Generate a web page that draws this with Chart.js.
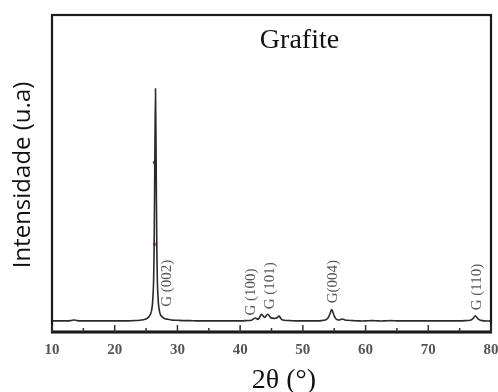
<!DOCTYPE html>
<html><head><meta charset="utf-8">
<script src="https://cdn.jsdelivr.net/npm/chart.js@4/dist/chart.umd.min.js"></script>
<style>html,body{margin:0;padding:0;background:#fff}#wrap{width:498px;height:392px}</style>
</head><body><div id="wrap"><canvas id="c" width="498" height="392"></canvas></div>
<script>
const twoTheta = [10,11,12,13,13.5,14,15,16,17,18,19,20,21,22,23,24,25,25.4,25.7,25.9,26.05,26.2,26.3,26.4,26.5,26.6,26.7,26.8,26.95,27.1,27.3,27.6,28,28.5,29,30,31,32,33,34,35,36,37,38,39,40,41,41.8,42.4,42.9,43.4,43.9,44.4,44.9,45.4,45.8,46.2,46.6,47,48,49,50,51,52,53,53.6,54.0,54.3,54.6,54.9,55.2,55.6,56,56.3,56.7,57,58,59,60,61,62,63,64,65,66,67,68,69,70,71,72,73,74,75,76,76.7,77.1,77.5,77.9,78.3,79,80];
const intensity = [3.5,3.5,3.5,3.6,3.8,3.6,3.5,3.5,3.5,3.5,3.5,3.5,3.5,3.5,3.6,3.7,4.1,4.7,5.6,7.0,9.5,16,30,55,76.7,55,30,16,9.5,7.0,5.4,4.7,4.2,4.0,3.8,3.7,3.6,3.6,3.5,3.5,3.5,3.5,3.5,3.5,3.5,3.5,3.6,3.7,4.4,4.0,5.6,4.6,5.6,4.5,4.3,4.4,5.0,4.0,3.7,3.6,3.5,3.5,3.5,3.5,3.6,3.8,4.4,5.6,7.1,5.6,4.3,3.8,3.9,4.1,3.8,3.7,3.6,3.5,3.5,3.6,3.5,3.5,3.6,3.5,3.5,3.5,3.5,3.5,3.5,3.5,3.5,3.5,3.5,3.5,3.6,3.7,4.2,5.1,4.2,3.7,3.5,3.5];
const peakLabels = ["G (002)","G (100)","G (101)","G(004)","G (110)"];
const labelX = [28.3,41.8,44.7,54.8,77.8];
const labelYcenter = [15.4,12.6,14.6,15.9,14.2];
const markerX = [26.4,26.4];
const markerY = [53.5,27.7];
const markerColors = ['#3a3aa8','#e06060'];
const xTicks = [10,20,30,40,50,60,70,80];
const minorTicks = [15,25,35,45,55,65,75];

const pts = twoTheta.map((x,i)=>({x:x,y:intensity[i]}));
const marks = markerX.map((x,i)=>({x:x,y:markerY[i]}));

const deco = {
  id:'deco',
  afterDatasetsDraw(chart){
    const {ctx, chartArea:a, scales:{x,y}} = chart;
    ctx.save();
    ctx.strokeStyle='#1a1a1a';
    ctx.lineWidth=2.2;
    ctx.strokeRect(a.left, a.top, a.right-a.left, a.bottom-a.top);
    ctx.lineWidth=3;
    ctx.beginPath();ctx.moveTo(a.left-1,a.bottom);ctx.lineTo(a.right+1,a.bottom);ctx.stroke();
    ctx.lineWidth=1.5;
    ctx.strokeStyle='#333';
    xTicks.forEach(v=>{const px=x.getPixelForValue(v);ctx.beginPath();ctx.moveTo(px,a.bottom);ctx.lineTo(px,a.bottom-7);ctx.stroke();});
    minorTicks.forEach(v=>{const px=x.getPixelForValue(v);ctx.beginPath();ctx.moveTo(px,a.bottom);ctx.lineTo(px,a.bottom-4);ctx.stroke();});
    ctx.fillStyle='#555';
    ctx.font='15px "Liberation Serif", "DejaVu Serif", serif';
    ctx.textAlign='center';ctx.textBaseline='middle';
    peakLabels.forEach((t,i)=>{
      ctx.save();
      ctx.translate(x.getPixelForValue(labelX[i]), y.getPixelForValue(labelYcenter[i]));
      ctx.rotate(-Math.PI/2);
      ctx.fillText(t,0,0);
      ctx.restore();
    });
    ctx.fillStyle='#111';
    ctx.textBaseline='alphabetic';
    ctx.font='28px "Liberation Serif", serif';
    ctx.fillText('Grafite', 299.5, 48);
    ctx.fillText('2θ (°)', 284, 388);
    ctx.save();
    ctx.translate(30,175);
    ctx.rotate(-Math.PI/2);
    ctx.font='24px "Open Sans", "Liberation Sans", sans-serif';
    ctx.fillText('Intensidade (u.a)',0,0);
    ctx.restore();
    ctx.restore();
  }
};

new Chart(document.getElementById('c'),{
  type:'line',
  data:{datasets:[
    {data:pts,borderColor:'#2a2a2a',borderWidth:1.6,pointRadius:0,tension:0.3,fill:false},
    {type:'scatter',data:marks,pointRadius:2,pointBackgroundColor:markerColors,pointBorderWidth:0,showLine:false}
  ]},
  options:{
    responsive:false,animation:false,
    layout:{padding:{left:52,right:7,top:15,bottom:0}},
    plugins:{legend:{display:false},tooltip:{enabled:false}},
    scales:{
      x:{type:'linear',min:10,max:80,
        afterFit(s){s.height=60;s.paddingLeft=0;s.paddingRight=0;},
        afterBuildTicks(s){s.ticks=xTicks.map(v=>({value:v}));},
        grid:{display:false,drawTicks:false},border:{display:false},
        ticks:{padding:9,color:'#555',font:{family:'"Liberation Serif", serif',size:15,weight:'bold'},maxRotation:0,autoSkip:false}
      },
      y:{display:false,min:0,max:100}
    }
  },
  plugins:[deco]
});
</script></body></html>
